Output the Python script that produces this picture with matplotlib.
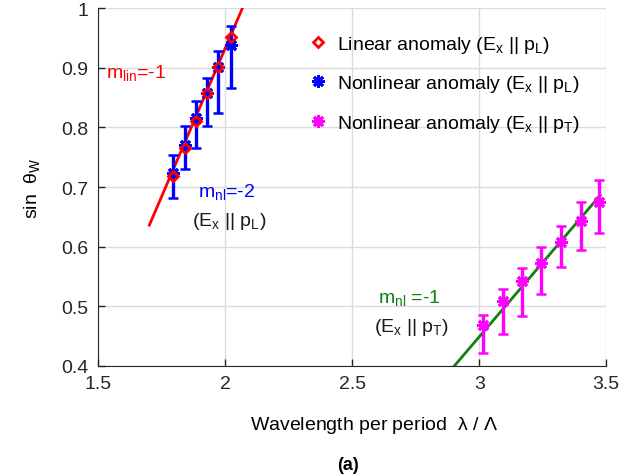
import matplotlib
matplotlib.use("Agg")
import matplotlib.pyplot as plt
import numpy as np

plt.rcParams["font.family"] = ["Liberation Sans", "DejaVu Sans"]
plt.rcParams["mathtext.default"] = "regular"

# linear anomaly, E_x || p_L
lin_x = [1.794, 1.841, 1.885, 1.928, 1.972, 2.024]
lin_y = [0.719, 0.766, 0.811, 0.857, 0.902, 0.951]

# nonlinear anomaly, E_x || p_L
nl_L_x = [1.794, 1.841, 1.885, 1.928, 1.972, 2.024]
nl_L_y = [0.723, 0.771, 0.816, 0.858, 0.902, 0.938]
nl_L_top = [0.754, 0.802, 0.845, 0.883, 0.929, 0.971]
nl_L_bot = [0.682, 0.731, 0.765, 0.803, 0.825, 0.867]

# nonlinear anomaly, E_x || p_T
nl_T_x = [3.017, 3.092, 3.169, 3.245, 3.322, 3.399, 3.472]
nl_T_y = [0.469, 0.508, 0.543, 0.573, 0.608, 0.643, 0.674]
nl_T_top = [0.485, 0.529, 0.564, 0.599, 0.635, 0.675, 0.712]
nl_T_bot = [0.422, 0.454, 0.484, 0.521, 0.566, 0.595, 0.622]

# fitted lines
fit_lin_x = [1.702, 2.08]
fit_lin_y = [0.636, 1.012]
fit_T_x = [2.899, 3.476]
fit_T_y = [0.398, 0.686]

x_ticks = [1.5, 2, 2.5, 3, 3.5]
y_ticks = [0.4, 0.5, 0.6, 0.7, 0.8, 0.9, 1.0]
y_tick_labels = ["0.4", "0.5", "0.6", "0.7", "0.8", "0.9", "1"]

fig = plt.figure(figsize=(6.22, 4.77), dpi=100)
ax = fig.add_axes([0.1576, 0.2312, 0.817, 0.7493])

ax.plot(fit_lin_x, fit_lin_y, color="#ff0000", lw=2, zorder=2)
ax.plot(fit_T_x, fit_T_y, color="#118011", lw=2, zorder=2)

star = (8, 2, 0)
yerr_L = [np.array(nl_L_y) - np.array(nl_L_bot), np.array(nl_L_top) - np.array(nl_L_y)]
ax.errorbar(nl_L_x, nl_L_y, yerr=yerr_L, fmt="none", ecolor="#0000ff",
            elinewidth=2.4, capsize=3.5, capthick=1.8, zorder=3)
ax.plot(nl_L_x, nl_L_y, ls="none", marker=star, ms=9, mew=2.0, color="#0000ff",
        zorder=4, label=r"Nonlinear anomaly (E$_x$ || p$_L$)")

yerr_T = [np.array(nl_T_y) - np.array(nl_T_bot), np.array(nl_T_top) - np.array(nl_T_y)]
ax.errorbar(nl_T_x, nl_T_y, yerr=yerr_T, fmt="none", ecolor="#ff00ff",
            elinewidth=2.4, capsize=3.5, capthick=1.8, zorder=3)
ax.plot(nl_T_x, nl_T_y, ls="none", marker=star, ms=9, mew=2.0, color="#ff00ff",
        zorder=4, label=r"Nonlinear anomaly (E$_x$ || p$_T$)")

ax.plot(lin_x, lin_y, ls="none", marker="D", ms=5.5, mew=2, mfc="none", mec="#ff0000",
        zorder=5, label=r"Linear anomaly (E$_x$ || p$_L$)")

ax.set_xlim(1.5, 3.5)
ax.set_ylim(0.4, 1.0)
ax.set_xticks(x_ticks)
ax.set_xticklabels([f"{t:g}" for t in x_ticks])
ax.set_yticks(y_ticks)
ax.set_yticklabels(y_tick_labels)
ax.tick_params(direction="in", length=5, width=1, labelsize=14, colors="#262626", pad=7)
ax.grid(True, color="#dcdcdc", lw=1)
ax.set_axisbelow(True)
for side in ["top", "right"]:
    ax.spines[side].set_visible(False)
for side in ["left", "bottom"]:
    ax.spines[side].set_color("#262626")

ax.set_xlabel(r"Wavelength per period  $\lambda$ / $\Lambda$", fontsize=14)
ax.xaxis.set_label_coords(0.543, -0.135)
ax.set_ylabel(r"sin  $\theta_{W}$", fontsize=14, labelpad=14)
fig.text(0.5595, 0.025, "(a)", fontsize=13, fontweight="bold", ha="center", va="center")

ax.text(1.533, 0.893, r"m$_{lin}$=-1", color="#ff0000", fontsize=14, va="center")
ax.text(1.894, 0.693, r"m$_{nl}$=-2", color="#0000ff", fontsize=14, va="center")
ax.text(1.870, 0.643, r"(E$_x$ || p$_L$)", color="#1a1a1a", fontsize=14, va="center")
ax.text(2.602, 0.516, r"m$_{nl}$ =-1", color="#118011", fontsize=14, va="center")
ax.text(2.587, 0.466, r"(E$_x$ || p$_T$)", color="#1a1a1a", fontsize=14, va="center")

handles, labels = ax.get_legend_handles_labels()
order = [2, 0, 1]
ax.legend([handles[i] for i in order], [labels[i] for i in order], frameon=False,
          loc="upper left", bbox_to_anchor=(0.38, 0.978), fontsize=14,
          labelspacing=0.95, handlelength=1.0, handletextpad=0.45)

fig.savefig("out.png", dpi=100)
